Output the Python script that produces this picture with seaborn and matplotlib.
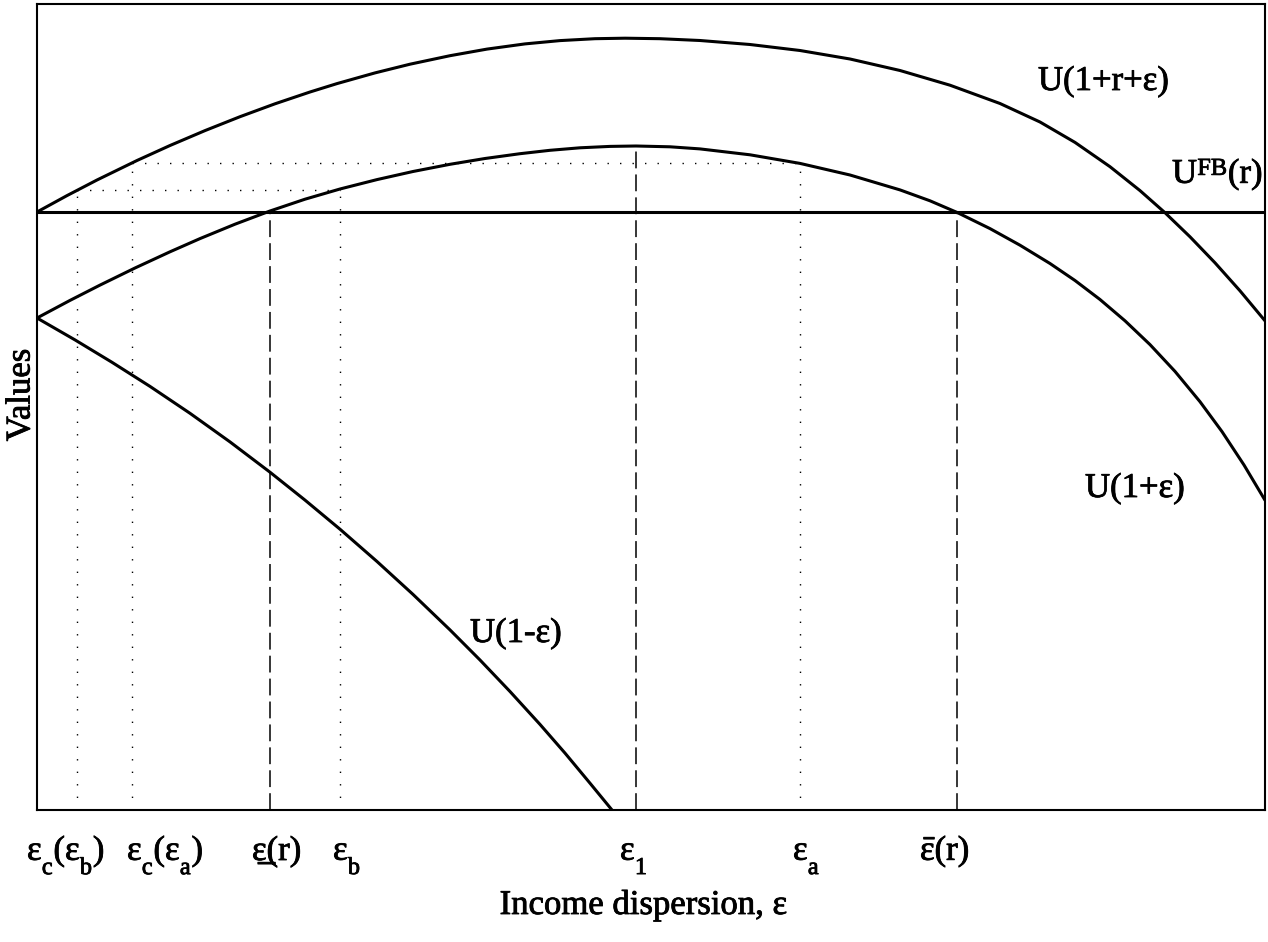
import matplotlib
matplotlib.use("Agg")
import matplotlib.pyplot as plt
import matplotlib.patheffects as pe
import matplotlib._mathtext as mathtext_internals
import seaborn as sns

# Income dispersion grid and utility values of the three curves
eps_hi = [0.00, 0.30, 0.60, 1.00, 1.33, 1.68, 2.03, 2.38, 2.73, 3.00, 3.38, 3.73,
          4.13, 4.50, 4.88, 5.23, 5.58, 5.88, 6.23, 6.63, 7.13, 7.63, 8.13, 8.63,
          9.13, 9.63, 10.03, 10.38, 10.73, 11.03, 11.28, 11.53, 11.78, 12.03, 12.28]
u_hi = [5.980, 6.144, 6.300, 6.495, 6.645, 6.794, 6.933, 7.062, 7.180, 7.264,
        7.371, 7.458, 7.543, 7.609, 7.661, 7.694, 7.713, 7.718, 7.713, 7.695,
        7.655, 7.595, 7.510, 7.395, 7.248, 7.065, 6.880, 6.676, 6.433, 6.194,
        5.973, 5.732, 5.472, 5.192, 4.892]

eps_mid = [0.00, 0.33, 0.63, 0.98, 1.33, 1.63, 1.98, 2.33, 2.68, 3.03, 3.40, 3.76,
           4.13, 4.48, 4.83, 5.13, 5.43, 5.73, 5.99, 6.33, 6.63, 7.13, 7.63, 8.13,
           8.63, 8.93, 9.20, 9.53, 9.83, 10.13, 10.38, 10.63, 10.88, 11.13, 11.38,
           11.63, 11.85, 12.07, 12.28]
u_mid = [4.920, 5.096, 5.249, 5.420, 5.582, 5.714, 5.858, 5.990, 6.108, 6.210,
         6.304, 6.385, 6.457, 6.515, 6.563, 6.597, 6.622, 6.636, 6.640, 6.632,
         6.611, 6.552, 6.466, 6.350, 6.201, 6.092, 5.976, 5.814, 5.648, 5.465,
         5.295, 5.105, 4.892, 4.654, 4.386, 4.083, 3.784, 3.450, 3.098]

eps_lo = [0.00, 0.38, 0.75, 1.13, 1.53, 1.93, 2.33, 2.68, 3.03, 3.40, 3.76, 4.13,
          4.43, 4.73, 5.03, 5.28, 5.53, 5.75]
u_lo = [4.920, 4.701, 4.477, 4.236, 3.967, 3.681, 3.378, 3.099, 2.808, 2.485,
        2.156, 1.801, 1.500, 1.185, 0.856, 0.569, 0.268, 0.000]

# First-best utility level
u_fb = 5.98

# Critical dispersion levels on the horizontal axis
tick_eps = [0.40, 0.95, 2.33, 3.03, 5.99, 7.63, 9.20]
tick_labels = ["ε$_\\mathrm{c}$(ε$_\\mathrm{b}$)", "ε$_\\mathrm{c}$(ε$_\\mathrm{a}$)",
               "ε\u0332(r)", "ε$_\\mathrm{b}$", "ε$_\\mathrm{1}$",
               "ε$_\\mathrm{a}$", "$\\bar{\\mathrm{ε}}$(r)"]
tick_dx = [-50, -5, -18, -7, -16, -7, -37]   # label left-edge shift, pixels

# Guide lines: dotted (equal utility levels) and dashed (critical points)
dot_v_eps = [0.40, 0.95, 3.03, 7.63]
dot_v_top = [6.20, 6.47, 6.20, 6.47]
dot_h_level = [6.20, 6.47]
dot_h_from = [0.40, 0.95]
dot_h_to = [3.03, 7.63]
dash_v_eps = [2.33, 5.99, 9.20]
dash_v_top = [5.98, 6.64, 5.98]

curve_names = ["U(1+r+ε)", "U$^{\\mathrm{FB}}$(r)", "U(1+ε)", "U(1-ε)"]
curve_name_x = [10.01, 11.35, 10.48, 4.33]
curve_name_y = [7.20, 6.27, 3.13, 1.68]

sns.set_theme(style="white")
plt.rcParams["font.family"] = ["Liberation Serif", "DejaVu Serif"]
plt.rcParams["mathtext.fontset"] = "custom"
plt.rcParams["mathtext.rm"] = "Liberation Serif"
plt.rcParams["mathtext.it"] = "Liberation Serif"
plt.rcParams["mathtext.bf"] = "Liberation Serif:bold"
# deeper subscripts, lower superscripts
mathtext_internals.FontConstantsBase.sub1 = 0.9
mathtext_internals.FontConstantsBase.sup1 = 0.5

FS = 25
heavy = [pe.withStroke(linewidth=0.6, foreground="black")]

fig = plt.figure(figsize=(12.68, 9.42), dpi=100)
ax = fig.add_axes([37 / 1268, 132 / 942, 1228 / 1268, 806 / 942])

lw = 2.2
sns.lineplot(x=eps_hi, y=u_hi, color="black", lw=lw, ax=ax)
sns.lineplot(x=eps_mid, y=u_mid, color="black", lw=lw, ax=ax)
sns.lineplot(x=eps_lo, y=u_lo, color="black", lw=lw, ax=ax)
ax.axhline(u_fb, color="black", lw=lw)

dot = (0, (1, 8))
for e, t in zip(dot_v_eps, dot_v_top):
    ax.plot([e, e], [0, t], color="black", lw=1.0, linestyle=dot)
for lv, a, b in zip(dot_h_level, dot_h_from, dot_h_to):
    ax.plot([a, b], [lv, lv], color="black", lw=1.0, linestyle=dot)
for e, t in zip(dash_v_eps, dash_v_top):
    ax.plot([e, e], [0, t], color="black", lw=1.1, linestyle=(0, (11, 4)))

for name, x, y in zip(curve_names, curve_name_x, curve_name_y):
    ax.text(x, y, name, fontsize=FS, ha="left", va="baseline", color="black",
            path_effects=heavy)

ax.set_xlim(0, 12.28)
ax.set_ylim(0, 8.06)
ax.set_xticks([])
ax.set_yticks([])
for e, lab, dx in zip(tick_eps, tick_labels, tick_dx):
    ax.annotate(lab, xy=(e, 0), xycoords=("data", "axes fraction"),
                xytext=(dx * 0.72, -50 * 0.72), textcoords="offset points",
                ha="left", va="baseline", fontsize=FS, color="black",
                annotation_clip=False, path_effects=heavy)

ax.set_xlabel("Income dispersion, ε", fontsize=FS, color="black", path_effects=heavy)
ax.xaxis.label.set_va("baseline")
ax.xaxis.set_label_coords(0.494, -104 / 806)
ax.set_ylabel("Values", fontsize=FS, color="black", path_effects=heavy)
ax.yaxis.label.set_va("center")
ax.yaxis.set_label_coords(-16 / 1228, 0.515)

for s in ax.spines.values():
    s.set_visible(True)
    s.set_color("black")
    s.set_linewidth(1.5)

fig.savefig("out.png", dpi=100, facecolor="white")
